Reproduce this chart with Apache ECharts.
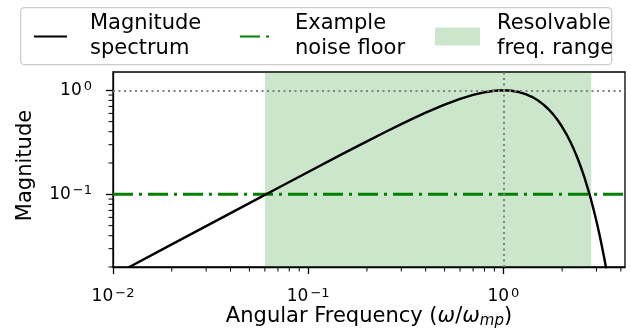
<!DOCTYPE html>
<html>
<head>
<meta charset="utf-8">
<script src="https://cdn.jsdelivr.net/npm/echarts@6/dist/echarts.min.js"></script>
<style>
  html, body { margin: 0; padding: 0; background: #ffffff; }
  #chart { width: 631px; height: 331px; }
</style>
</head>
<body>
<div id="chart"></div>
<script>
// Normalised angular frequency (omega / omega_mp) and spectrum magnitude
const freq = [0.012, 0.02, 0.03, 0.05, 0.07, 0.1, 0.15, 0.2, 0.25, 0.3, 0.35, 0.4, 0.5, 0.6, 0.7, 0.8, 0.9,
  1.0, 1.1, 1.2, 1.3, 1.4, 1.5, 1.6, 1.7, 1.8, 1.9, 2.0, 2.1, 2.2, 2.3, 2.4, 2.5, 2.6, 2.7, 2.8, 2.9,
  3.0, 3.1, 3.2, 3.3, 3.4];
const magnitude = [0.0198, 0.033, 0.0495, 0.0822, 0.115, 0.164, 0.245, 0.323, 0.3995, 0.473, 0.543, 0.609,
  0.728, 0.826, 0.903, 0.958, 0.990, 1.0, 0.990, 0.963, 0.921, 0.866, 0.803, 0.733, 0.661, 0.587, 0.515,
  0.446, 0.382, 0.322, 0.269, 0.222, 0.181, 0.146, 0.116, 0.0916, 0.0713, 0.0550, 0.0419, 0.0315, 0.0235,
  0.0173];

// Noise floor level and the frequency band resolvable above it
const noiseFloor = 0.1;
const resolvableRange = [0.06, 2.82];

// Axis limits and tick marks (exponents are shown as 10^n)
const xLimits = [0.01, 4.2];
const yLimits = [0.02, 1.5];
const xMajorTicks = [0.01, 0.1, 1];
const xMajorExponents = ['−2', '−1', '0'];
const xMinorTicks = [0.02, 0.03, 0.04, 0.05, 0.06, 0.07, 0.08, 0.09,
  0.2, 0.3, 0.4, 0.5, 0.6, 0.7, 0.8, 0.9, 2, 3, 4];
const yMajorTicks = [0.1, 1];
const yMajorExponents = ['−1', '0'];
const yMinorTicks = [0.02, 0.03, 0.04, 0.05, 0.06, 0.07, 0.08, 0.09,
  0.2, 0.3, 0.4, 0.5, 0.6, 0.7, 0.8, 0.9];

const FONT = 'DejaVu Sans';
const rangeColor = 'rgba(0,128,0,0.2)';
const MINOR_LEN = 4.5;

function powerLabel(ticks, exps) {
  return function (v) {
    let best = 0, bestD = Infinity;
    ticks.forEach(function (t, i) {
      const d = Math.abs(Math.log10(t) - Math.log10(v));
      if (d < bestD) { bestD = d; best = i; }
    });
    return '{b|10}{s|' + exps[best] + '}';
  };
}
const tickRich = {
  b: { fontFamily: FONT, fontSize: 17, lineHeight: 20, color: '#000' },
  s: { fontFamily: FONT, fontSize: 13, lineHeight: 13, verticalAlign: 'top', color: '#000', padding: [0, 0, 0, 2] }
};

function logAxis(extra) {
  return Object.assign({
    type: 'log', logBase: 10, gridIndex: 0,
    axisLine: { show: true, lineStyle: { color: '#000', width: 1.3 } },
    splitLine: { show: false },
    minorTick: { show: false },
    minorSplitLine: { show: false },
    nameMoveOverlap: false
  }, extra);
}

// minor tick marks drawn through the axis scales
function minorTickSeries(dim, values) {
  return {
    type: 'custom', name: dim + ' minor ticks', xAxisIndex: 0, yAxisIndex: 0, z: 10,
    silent: true, clip: false,
    data: values.map(function (v) { return [v]; }),
    encode: dim === 'x' ? { x: 0 } : { y: 0 },
    renderItem: function (params, api) {
      const v = api.value(0);
      if (dim === 'x') {
        const p = api.coord([v, yLimits[0]]);
        return { type: 'line', shape: { x1: p[0], y1: p[1], x2: p[0], y2: p[1] + MINOR_LEN },
                 style: { stroke: '#000', lineWidth: 1 } };
      }
      const q = api.coord([xLimits[0], v]);
      return { type: 'line', shape: { x1: q[0], y1: q[1], x2: q[0] - MINOR_LEN, y2: q[1] },
               style: { stroke: '#000', lineWidth: 1 } };
    }
  };
}

const spectrumData = freq.map(function (f, i) { return [f, magnitude[i]]; });

const legendText = { fontFamily: FONT, fontSize: 21, lineHeight: 25, color: '#000' };

const option = {
  animation: false,
  backgroundColor: '#ffffff',
  textStyle: { fontFamily: FONT },
  grid: {
    left: 113, top: 72, right: 6, bottom: 64,
    outerBoundsMode: 'none', containLabel: false,
    show: true, borderColor: '#000', borderWidth: 1.3, backgroundColor: 'transparent'
  },
  graphic: [{
    type: 'rect', left: 20, top: 7, z: 0,
    shape: { width: 591, height: 57, r: 4 },
    style: { fill: 'rgba(255,255,255,0.8)', stroke: '#cccccc', lineWidth: 1.3 }
  }],
  legend: [
    {
      data: ['Magnitude spectrum'], left: 33, top: 11.5, padding: 0, z: 5,
      selectedMode: false, itemWidth: 33, itemHeight: 14,
      itemStyle: { opacity: 0 },
      formatter: function () { return 'Magnitude\nspectrum'; },
      textStyle: Object.assign({ padding: [0, 0, 0, 18] }, legendText)
    },
    {
      data: ['Example noise floor'], left: 239, top: 11.5, padding: 0, z: 5,
      selectedMode: false, itemWidth: 33, itemHeight: 14,
      itemStyle: { opacity: 0 },
      formatter: function () { return 'Example\nnoise floor'; },
      textStyle: Object.assign({ padding: [0, 0, 0, 17] }, legendText)
    },
    {
      data: [{ name: 'Resolvable freq. range', icon: 'rect', itemStyle: { color: rangeColor } }],
      left: 435, top: 11.5, padding: 0, z: 5,
      selectedMode: false, itemWidth: 45, itemHeight: 18,
      formatter: function () { return 'Resolvable\nfreq. range'; },
      textStyle: Object.assign({ padding: [0, 0, 0, 12] }, legendText)
    }
  ],
  xAxis: [
    logAxis({
      position: 'bottom', min: xLimits[0], max: xLimits[1],
      axisTick: { show: true, inside: false, length: 7, lineStyle: { color: '#000', width: 1.3 }, customValues: xMajorTicks },
      axisLabel: {
        show: true, margin: 20, customValues: xMajorTicks,
        formatter: powerLabel(xMajorTicks, xMajorExponents), rich: tickRich
      },
      name: '{a|Angular Frequency (}{i|ω}{a|/}{i|ω}{sub|mp}{a|)}',
      nameLocation: 'middle', nameGap: 37,
      nameTextStyle: {
        rich: {
          a: { fontFamily: FONT, fontSize: 21, lineHeight: 25, color: '#000' },
          i: { fontFamily: FONT, fontSize: 21, lineHeight: 25, fontStyle: 'italic', color: '#000' },
          sub: { fontFamily: FONT, fontSize: 15, lineHeight: 15, fontStyle: 'italic', color: '#000',
                 verticalAlign: 'bottom', padding: [10, 0, 0, 0] }
        }
      }
    })
  ],
  yAxis: [
    logAxis({
      position: 'left', min: yLimits[0], max: yLimits[1],
      axisTick: { show: true, inside: false, length: 7, lineStyle: { color: '#000', width: 1.3 }, customValues: yMajorTicks },
      axisLabel: {
        show: true, margin: 21, customValues: yMajorTicks,
        formatter: powerLabel(yMajorTicks, yMajorExponents), rich: tickRich
      },
      name: 'Magnitude', nameLocation: 'middle', nameGap: 77,
      nameTextStyle: { fontFamily: FONT, fontSize: 21, color: '#000', padding: [0, 0, 0, 8] }
    })
  ],
  series: [
    {
      // shaded resolvable band
      name: 'Resolvable freq. range', type: 'line', xAxisIndex: 0, yAxisIndex: 0, z: 1,
      data: [], symbol: 'none',
      itemStyle: { color: rangeColor }, lineStyle: { color: rangeColor },
      markArea: {
        silent: true,
        itemStyle: { color: rangeColor },
        label: { show: false },
        data: [[{ xAxis: resolvableRange[0] }, { xAxis: resolvableRange[1] }]]
      }
    },
    {
      // dotted reference lines at the peak
      name: 'peak reference', type: 'line', xAxisIndex: 0, yAxisIndex: 0, z: 2,
      data: [], symbol: 'none',
      markLine: {
        silent: true, symbol: ['none', 'none'],
        label: { show: false },
        lineStyle: { color: '#808080', type: [2, 3.5], width: 2 },
        data: [{ yAxis: 1 }, { xAxis: 1 }]
      }
    },
    {
      name: 'Example noise floor', type: 'line', xAxisIndex: 0, yAxisIndex: 0, z: 3,
      data: [[xLimits[0], noiseFloor], [xLimits[1], noiseFloor]],
      symbol: 'none', showSymbol: false,
      itemStyle: { color: '#008000' },
      lineStyle: { color: '#008000', width: 3, type: [20, 6, 3, 6], cap: 'butt' }
    },
    {
      name: 'Magnitude spectrum', type: 'line', xAxisIndex: 0, yAxisIndex: 0, z: 4,
      data: spectrumData, symbol: 'none', showSymbol: false, clip: true,
      itemStyle: { color: '#000' },
      lineStyle: { color: '#000', width: 2.4 }
    },
    minorTickSeries('x', xMinorTicks),
    minorTickSeries('y', yMinorTicks)
  ]
};

const chart = echarts.init(document.getElementById('chart'), null, { renderer: 'canvas' });
chart.setOption(option);
</script>
</body>
</html>
